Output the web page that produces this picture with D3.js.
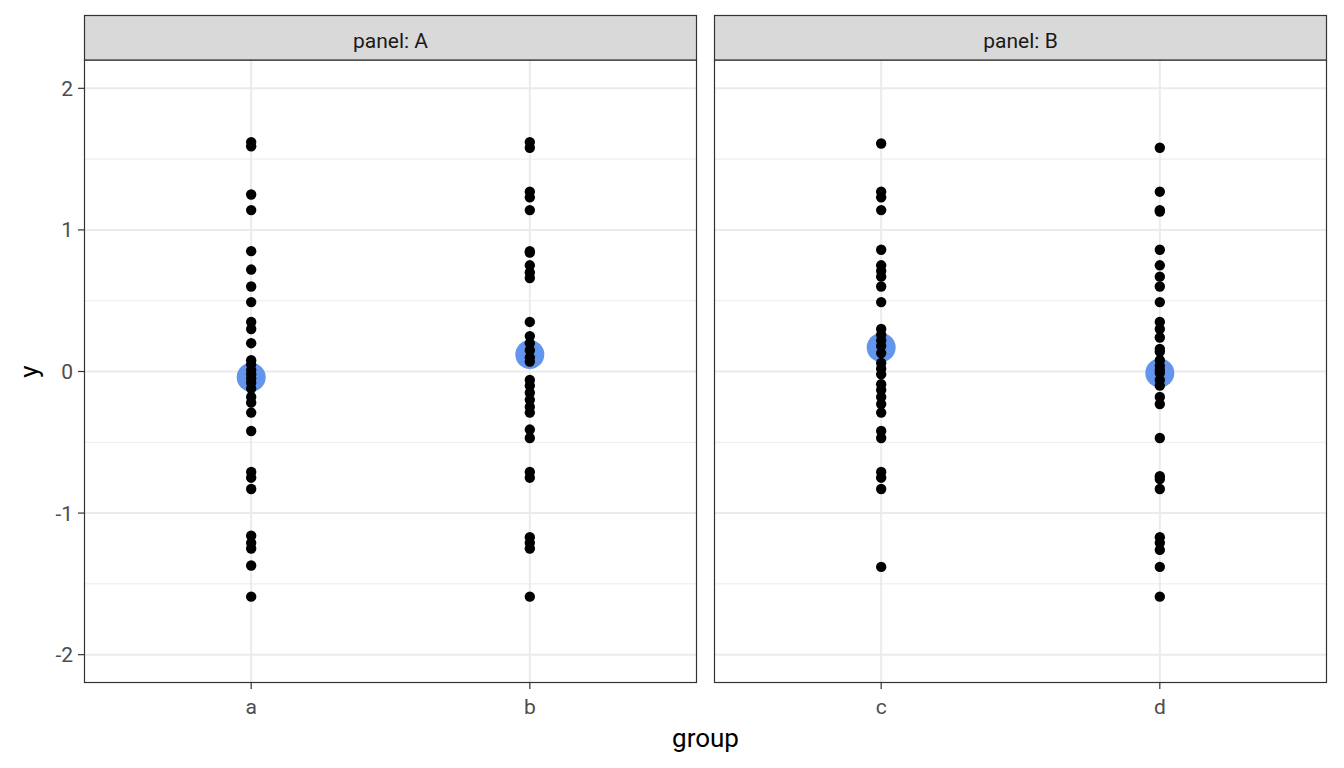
<!DOCTYPE html>
<html>
<head>
<meta charset="utf-8">
<script src="https://cdn.jsdelivr.net/npm/d3@7"></script>
<style>
  body { margin: 0; background: #fff; }
  text { font-family: Roboto, "Liberation Sans", Arial, sans-serif; }
</style>
</head>
<body>
<div id="viz"></div>
<script>
// data
const panels = ["A", "B"];
const panelGroups = { A: ["a", "b"], B: ["c", "d"] };
const yTicks = [-2, -1, 0, 1, 2];
const yMinor = [-1.5, -0.5, 0.5, 1.5];

const valuesA = [1.62, 1.59, 1.25, 1.14, 0.85, 0.72, 0.60, 0.49, 0.35, 0.30, 0.20, 0.08, 0.05, 0.01, -0.02,
  -0.05, -0.08, -0.12, -0.18, -0.22, -0.29, -0.42, -0.71, -0.75, -0.83, -1.16, -1.21, -1.25, -1.37, -1.59];
const valuesB = [1.62, 1.58, 1.27, 1.23, 1.14, 0.85, 0.84, 0.75, 0.70, 0.66, 0.35, 0.25, 0.20, 0.15, 0.10,
  0.07, -0.06, -0.10, -0.15, -0.20, -0.25, -0.29, -0.41, -0.47, -0.71, -0.75, -1.17, -1.21, -1.25, -1.59];
const valuesC = [1.61, 1.27, 1.23, 1.14, 0.86, 0.75, 0.71, 0.67, 0.60, 0.49, 0.30, 0.26, 0.22, 0.18, 0.13,
  0.06, 0.02, -0.02, -0.09, -0.13, -0.18, -0.23, -0.29, -0.42, -0.47, -0.71, -0.75, -0.83, -1.38];
const valuesD = [1.58, 1.27, 1.14, 1.13, 0.86, 0.75, 0.67, 0.60, 0.49, 0.35, 0.30, 0.24, 0.16, 0.14, 0.08,
  0.04, 0.01, -0.01, -0.06, -0.10, -0.18, -0.23, -0.47, -0.74, -0.76, -0.83, -1.17, -1.21, -1.26, -1.38, -1.59];
const groupMeans = { a: -0.04, b: 0.12, c: 0.17, d: -0.01 };

const groupValues = { a: valuesA, b: valuesB, c: valuesC, d: valuesD };

const W = 1344, H = 768;
const svg = d3.select("#viz").append("svg")
  .attr("width", W)
  .attr("height", H);

// panel layout
const panelX = { A: 84, B: 714 };
const panelW = 613;
const stripTop = 15, stripH = 45;
const plotTop = 60, plotBottom = 683;
const tickFont = 21;

const y = d3.scaleLinear().domain([-2.2, 2.2]).range([plotBottom, plotTop]);

panels.forEach(function(p, pi) {
  const x0 = panelX[p];
  // discrete positions 1..2 with ggplot's 0.6 expansion on each side
  const xs = d3.scaleLinear().domain([0.4, 2.6]).range([x0, x0 + panelW]);
  const xPos = g => xs(panelGroups[p].indexOf(g) + 1);

  const g = svg.append("g");

  // minor grid
  g.selectAll("line.minor").data(yMinor).enter().append("line")
    .attr("x1", x0).attr("x2", x0 + panelW)
    .attr("y1", d => y(d)).attr("y2", d => y(d))
    .attr("stroke", "#EBEBEB").attr("stroke-width", 1);

  // major grid
  g.selectAll("line.majorY").data(yTicks).enter().append("line")
    .attr("x1", x0).attr("x2", x0 + panelW)
    .attr("y1", d => y(d)).attr("y2", d => y(d))
    .attr("stroke", "#EBEBEB").attr("stroke-width", 2);
  g.selectAll("line.majorX").data(panelGroups[p]).enter().append("line")
    .attr("x1", d => xPos(d)).attr("x2", d => xPos(d))
    .attr("y1", plotTop).attr("y2", plotBottom)
    .attr("stroke", "#EBEBEB").attr("stroke-width", 2);

  // mean points (under the raw points)
  g.selectAll("circle.mean").data(panelGroups[p]).enter().append("circle")
    .attr("cx", d => xPos(d))
    .attr("cy", d => y(groupMeans[d]))
    .attr("r", 14.5)
    .attr("fill", "#6495ED");

  // raw points
  panelGroups[p].forEach(function(grp) {
    g.selectAll(null).data(groupValues[grp]).enter().append("circle")
      .attr("cx", xPos(grp))
      .attr("cy", d => y(d))
      .attr("r", 5.2)
      .attr("fill", "#000");
  });

  // panel border
  g.append("rect")
    .attr("x", x0 + 0.5).attr("y", plotTop)
    .attr("width", panelW - 1).attr("height", plotBottom - plotTop - 0.5)
    .attr("fill", "none")
    .attr("stroke", "#333333").attr("stroke-width", 1.2);

  // strip
  g.append("rect")
    .attr("x", x0 + 0.5).attr("y", stripTop + 0.5)
    .attr("width", panelW - 1).attr("height", stripH - 0.5)
    .attr("fill", "#D9D9D9")
    .attr("stroke", "#333333").attr("stroke-width", 1.2);
  g.append("text")
    .attr("x", x0 + panelW / 2).attr("y", 47.5)
    .attr("text-anchor", "middle")
    .attr("font-size", tickFont)
    .attr("fill", "#1A1A1A")
    .text("panel: " + p);

  // x axis
  const xAxis = g.append("g").attr("transform", "translate(0," + plotBottom + ")");
  xAxis.selectAll("line").data(panelGroups[p]).enter().append("line")
    .attr("x1", d => xPos(d)).attr("x2", d => xPos(d))
    .attr("y1", 0).attr("y2", 6)
    .attr("stroke", "#333333").attr("stroke-width", 1.2);
  xAxis.selectAll("text").data(panelGroups[p]).enter().append("text")
    .attr("x", d => xPos(d)).attr("y", 31)
    .attr("text-anchor", "middle")
    .attr("font-size", tickFont)
    .attr("fill", "#4D4D4D")
    .text(d => d);

  // y axis on first panel
  if (pi === 0) {
    const yAxis = g.append("g").attr("transform", "translate(" + x0 + ",0)");
    yAxis.selectAll("line").data(yTicks).enter().append("line")
      .attr("x1", -6).attr("x2", 0)
      .attr("y1", d => y(d)).attr("y2", d => y(d))
      .attr("stroke", "#333333").attr("stroke-width", 1.2);
    yAxis.selectAll("text").data(yTicks).enter().append("text")
      .attr("x", -11).attr("y", d => y(d) + 7.5)
      .attr("text-anchor", "end")
      .attr("font-size", tickFont)
      .attr("fill", "#4D4D4D")
      .text(d => d);
  }
});

// axis titles
svg.append("text")
  .attr("x", (84 + 1327) / 2).attr("y", 747)
  .attr("text-anchor", "middle")
  .attr("font-size", 26)
  .attr("fill", "#000")
  .text("group");
svg.append("text")
  .attr("transform", "translate(38," + y(0) + ") rotate(-90)")
  .attr("text-anchor", "middle")
  .attr("font-size", 26)
  .attr("fill", "#000")
  .text("y");
</script>
</body>
</html>
